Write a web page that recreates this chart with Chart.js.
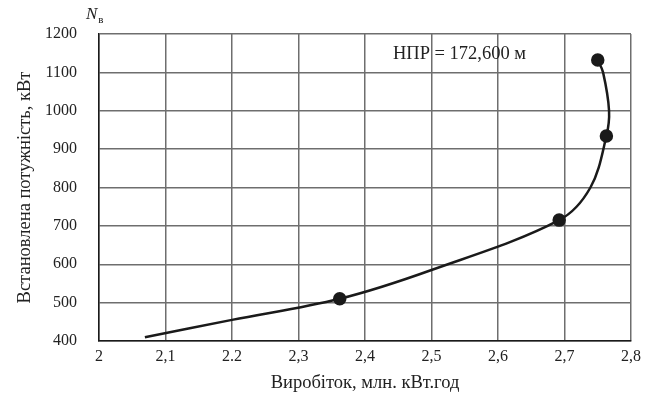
<!DOCTYPE html>
<html>
<head>
<meta charset="utf-8">
<script src="https://cdn.jsdelivr.net/npm/chart.js@4.4.0/dist/chart.umd.min.js"></script>
<style>
  html, body { margin: 0; padding: 0; background: #fff; }
  #wrap { width: 656px; height: 403px; }
</style>
</head>
<body>
<div id="wrap"><canvas id="chart"></canvas></div>
<script>
// curve (output vs installed power)
const curveX = [2.069, 2.2, 2.362, 2.5, 2.692, 2.739, 2.763, 2.767, 2.758, 2.75];
const curveY = [410, 455, 510, 585, 715, 800, 934, 1000, 1100, 1132];
// which of the curve points carry a dot
const markerFlags = [0, 0, 1, 0, 1, 0, 1, 0, 0, 1];
const xTickLabels = ["2", "2,1", "2.2", "2,3", "2,4", "2,5", "2,6", "2,7", "2,8"];
const yTicks = [400, 500, 600, 700, 800, 900, 1000, 1100, 1200];
const noteText = "НПР = 172,600 м";
const notePos = [2.442, 1148];

const FONT = "'Liberation Serif', 'Times New Roman', serif";

const labelsPlugin = {
    id: "labels",
    afterDraw(chart) {
        const ctx = chart.ctx;
        const x = chart.scales.x, y = chart.scales.y;
        ctx.save();
        ctx.fillStyle = "#222";
        ctx.textBaseline = "middle";
        ctx.textAlign = "left";
        ctx.font = "18.5px " + FONT;
        ctx.fillText(noteText, x.getPixelForValue(notePos[0]), y.getPixelForValue(notePos[1]));
        // N_в over the y axis
        ctx.font = "italic 17px " + FONT;
        ctx.fillText("N", 86, 15);
        const w = ctx.measureText("N").width;
        ctx.font = "11px " + FONT;
        ctx.fillText("в", 86 + w + 1, 20);
        ctx.restore();
    },
};

new Chart(document.getElementById("chart"), {
    type: "scatter",
    data: {
        datasets: [
            {
                data: curveX.map((v, i) => ({ x: v, y: curveY[i] })),
                showLine: true,
                tension: 0.35,
                borderColor: "#1a1a1a",
                borderWidth: 2.5,
                pointRadius: markerFlags.map((f) => (f ? 5.5 : 0)),
                pointBackgroundColor: "#1a1a1a",
                pointBorderColor: "#1a1a1a",
            },
        ],
    },
    options: {
        responsive: true,
        maintainAspectRatio: false,
        animation: false,
        layout: { padding: { left: 10, right: 25, top: 34, bottom: 5 } },
        plugins: { legend: { display: false }, tooltip: { enabled: false } },
        scales: {
            x: {
                min: 2,
                max: 2.8,
                afterBuildTicks: (scale) => {
                    scale.ticks = xTickLabels.map((_, i) => ({ value: 2 + i * 0.1 }));
                },
                afterFit: (scale) => { scale.height = 57; },
                ticks: {
                    callback: (v, i) => xTickLabels[i],
                    color: "#222",
                    font: { family: FONT, size: 16 },
                    padding: 6,
                    maxRotation: 0,
                },
                grid: { color: "#6e6e6e", lineWidth: 1.5, drawTicks: false },
                border: { color: "#1a1a1a", width: 1.5 },
                title: {
                    display: true,
                    text: "Виробіток, млн. кВт.год",
                    color: "#222",
                    font: { family: FONT, size: 18.5 },
                    padding: { top: 0 },
                },
            },
            y: {
                min: 400,
                max: 1200,
                afterBuildTicks: (scale) => {
                    scale.ticks = yTicks.map((v) => ({ value: v }));
                },
                afterFit: (scale) => { scale.width = 89; },
                ticks: {
                    callback: (v) => String(v),
                    color: "#222",
                    font: { family: FONT, size: 16 },
                    padding: 22,
                },
                grid: { color: "#6e6e6e", lineWidth: 1.5, drawTicks: false },
                border: { color: "#1a1a1a", width: 1.5 },
                title: {
                    display: true,
                    text: "Встановлена потужність, кВт",
                    color: "#222",
                    font: { family: FONT, size: 18.5 },
                    padding: { bottom: 4 },
                },
            },
        },
    },
    plugins: [labelsPlugin],
});
</script>
</body>
</html>
